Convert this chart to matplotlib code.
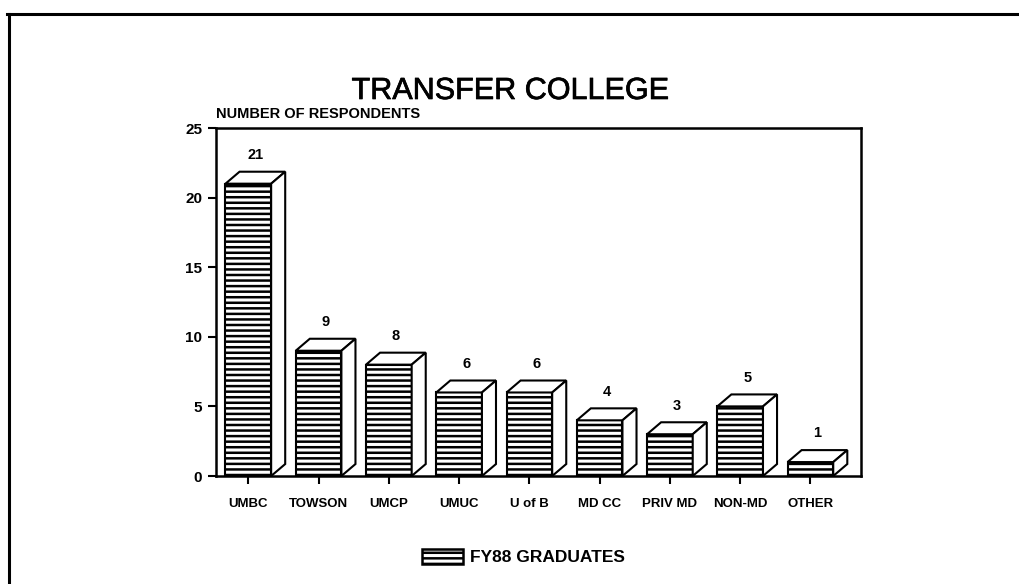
import matplotlib
matplotlib.use("Agg")
import matplotlib.pyplot as plt
import matplotlib.patheffects as pe
from matplotlib.patches import Polygon, Rectangle
from matplotlib.lines import Line2D

colleges = ["UMBC", "TOWSON", "UMCP", "UMUC", "U of B", "MD CC", "PRIV MD", "NON-MD", "OTHER"]
respondents = [21, 9, 8, 6, 6, 4, 3, 5, 1]
yticks = [0, 5, 10, 15, 20, 25]
series_name = "FY88 GRADUATES"

plt.rcParams["font.family"] = ["Liberation Sans", "DejaVu Sans"]
plt.rcParams["hatch.linewidth"] = 1.8

fig = plt.figure(figsize=(10.2, 5.84), dpi=100)
ax = fig.add_axes([216 / 1020, 1 - 476 / 584, (861 - 216) / 1020, (476 - 128) / 584])

# page border from the scanned sheet
fig.add_artist(Line2D([7 / 1020, 1.0], [1 - 14 / 584, 1 - 14 / 584], transform=fig.transFigure,
                      color="black", lw=2.2))
fig.add_artist(Line2D([9 / 1020, 9 / 1020], [0, 1 - 14 / 584], transform=fig.transFigure,
                      color="black", lw=2.2))

w = 0.65
dx, dy = 0.2, 0.86
xs = range(len(colleges))
ax.bar(xs, respondents, width=w, color="white", edgecolor="black", hatch="---", linewidth=1.5, zorder=2)
for x, v in zip(xs, respondents):
    l, r = x - w / 2, x + w / 2
    top = Polygon([(l, v), (l + dx, v + dy), (r + dx, v + dy), (r, v)], closed=True,
                  facecolor="white", edgecolor="black", lw=1.5, zorder=3)
    side = Polygon([(r, 0), (r + dx, dy), (r + dx, v + dy), (r, v)], closed=True,
                   facecolor="white", edgecolor="black", lw=1.5, zorder=3)
    ax.add_patch(top)
    ax.add_patch(side)
    ax.text(x + dx / 2, v + dy + 0.7, str(v), ha="center", va="bottom",
            fontsize=10.5, fontweight="bold")

ax.set_xlim(-0.46, 8.72)
ax.set_ylim(0, 25)
ax.set_yticks(yticks)
ax.set_xticks(list(xs))
ax.set_xticklabels(colleges, fontsize=9.5, fontweight="bold")
ax.set_yticklabels([str(t) for t in yticks], fontsize=11, fontweight="bold")
ax.tick_params(axis="both", direction="out", length=6, width=1.5, pad=4)
ax.tick_params(axis="x", pad=10)
for s in ax.spines.values():
    s.set_linewidth(1.8)

ax.text(0.0, 1.02, "NUMBER OF RESPONDENTS", transform=ax.transAxes, ha="left", va="bottom",
        fontsize=10.5, fontweight="bold")
fig.text(0.5, 1 - 91 / 584, "TRANSFER COLLEGE", ha="center", va="center", fontsize=22,
         path_effects=[pe.withStroke(linewidth=0.5, foreground="black")])

# legend
lg = Rectangle((0, 0), 1, 1, facecolor="white", edgecolor="black", hatch="---", lw=1.8)
fig.legend([lg], [series_name], loc="center", bbox_to_anchor=(0.513, 1 - 557 / 584),
           frameon=False, prop={"weight": "bold", "size": 12.5}, handlelength=2.4, handleheight=1.0,
           handletextpad=0.4)

fig.savefig("out.png", dpi=100)
